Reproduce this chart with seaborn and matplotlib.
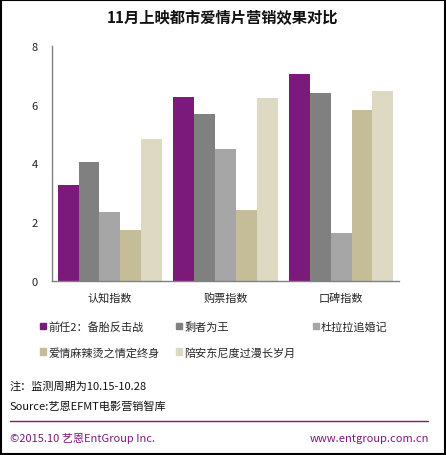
import pandas as pd
import matplotlib
matplotlib.use('Agg')
import matplotlib.pyplot as plt
import matplotlib.patches as mpatches
import matplotlib.lines as mlines
import seaborn as sns

categories = ['认知指数', '购票指数', '口碑指数']
films = ['前任2：备胎反击战', '剩者为王', '杜拉拉追婚记', '爱情麻辣烫之情定终身', '陪安东尼度过漫长岁月']
values = {
    '前任2：备胎反击战': [3.28, 6.26, 7.05],
    '剩者为王': [4.06, 5.68, 6.40],
    '杜拉拉追婚记': [2.36, 4.50, 1.64],
    '爱情麻辣烫之情定终身': [1.73, 2.41, 5.83],
    '陪安东尼度过漫长岁月': [4.84, 6.22, 6.46],
}
colors = ['#7B1A7A', '#808080', '#A6A6A6', '#C4BD97', '#DDD9C3']
yticks = [0, 2, 4, 6, 8]

rows = []
for f in films:
    for c, v in zip(categories, values[f]):
        rows.append({'指标': c, '影片': f, '值': v})
df = pd.DataFrame(rows)

sns.set_style('white')
plt.rcParams['font.family'] = ['Noto Sans CJK SC', 'DejaVu Sans']

fig = plt.figure(figsize=(4.46, 4.56), dpi=100)
ax = fig.add_axes([0.1166, 0.3816, 0.778, 0.5154])
sns.barplot(data=df, x='指标', y='值', hue='影片', order=categories, hue_order=films,
            palette=colors, width=0.9, saturation=1, linewidth=0, ax=ax, legend=False)

ax.set_ylim(0, 8)
ax.set_xlim(-0.5, 2.5)
ax.set_yticks(yticks)
ax.set_xlabel('')
ax.set_ylabel('')
ax.tick_params(axis='both', length=0, labelsize=8, colors='#222222')
ax.tick_params(axis='x', pad=8)
ax.tick_params(axis='y', pad=10)
for s in ['top', 'right']:
    ax.spines[s].set_visible(False)
for s in ['left', 'bottom']:
    ax.spines[s].set_color('#808080')
    ax.spines[s].set_linewidth(1)

fig.text(0.5, 1 - 18 / 456, '11月上映都市爱情片营销效果对比', ha='center', va='center',
         fontsize=11, fontweight='bold', color='#111111')

# legend laid out row by row in three columns
handles = [mpatches.Patch(color=c, label=f) for c, f in zip(colors, films)]
order = [0, 3, 1, 4, 2]
leg = fig.legend([handles[i] for i in order], [films[i] for i in order], ncol=3,
                 loc='upper left', bbox_to_anchor=(40 / 446, 1 - 322 / 456),
                 frameon=False, fontsize=8, handlelength=0.55, handleheight=0.55,
                 handletextpad=0.2, columnspacing=1.5, labelspacing=1.35,
                 borderaxespad=0, borderpad=0)

fig.text(10 / 446, 1 - 387 / 456, '注：监测周期为10.15-10.28', fontsize=8, va='center', color='#111111')
fig.text(10 / 446, 1 - 407 / 456, 'Source:艺恩EFMT电影营销智库', fontsize=8, va='center', color='#111111')
fig.add_artist(mlines.Line2D([10 / 446, 428 / 446], [1 - 422 / 456] * 2, color='#7B1A7A', lw=1))
fig.text(10 / 446, 1 - 439 / 456, '©2015.10 艺恩EntGroup Inc.', fontsize=8, va='center', color='#7B1A7A')
fig.text(429 / 446, 1 - 439 / 456, 'www.entgroup.com.cn', fontsize=8, va='center', ha='right', color='#7B1A7A')

fig.add_artist(mpatches.Rectangle((0.002, 0.002), 0.996, 0.996, transform=fig.transFigure,
                                  fill=False, edgecolor='black', lw=1.5))

fig.savefig('out.png', dpi=100)
